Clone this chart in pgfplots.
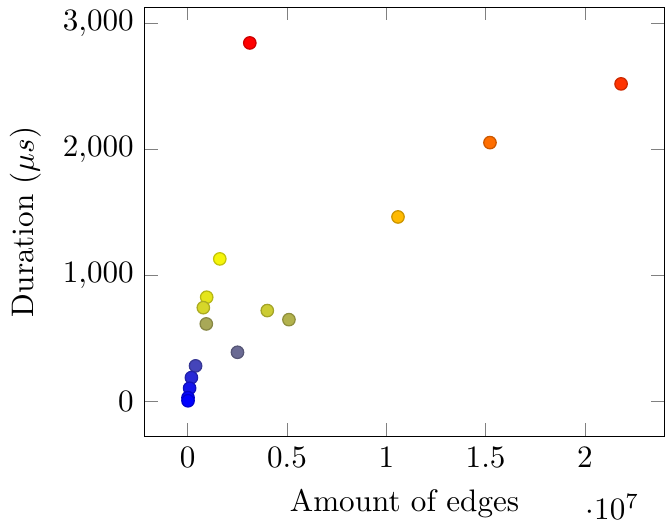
\documentclass[border=0pt]{standalone}
\usepackage{pgfplots}
\pgfplotsset{compat=1.18}

\pgfplotstableread{
x        y     c
3130000  2845  2.00
21820000 2520  1.80
15220000 2054  1.57
10590000 1464  1.27
1620000  1131  0.96
960000   827   0.90
790000   744   0.84
940000   615   0.66
4010000  721   0.80
5100000  649   0.70
2510000  390   0.42
400000   282   0.27
190000   189   0.16
100000   105   0.08
20000    30    0.02
20000    5     0.00
}\durations

\begin{document}
\begin{tikzpicture}
\begin{axis}[
  scale only axis,
  width=167pt, height=138pt,
  xlabel={Amount of edges},
  ylabel={Duration ($\mu s$)},
  colormap={byr}{rgb255=(0,0,255) rgb255=(255,255,0) rgb255=(255,0,0)},
  point meta min=0, point meta max=2,
]
\addplot[scatter, only marks, mark=*, mark size=2pt, point meta=explicit]
  table[x=x, y=y, meta=c] {\durations};
\end{axis}
\end{tikzpicture}
\end{document}
